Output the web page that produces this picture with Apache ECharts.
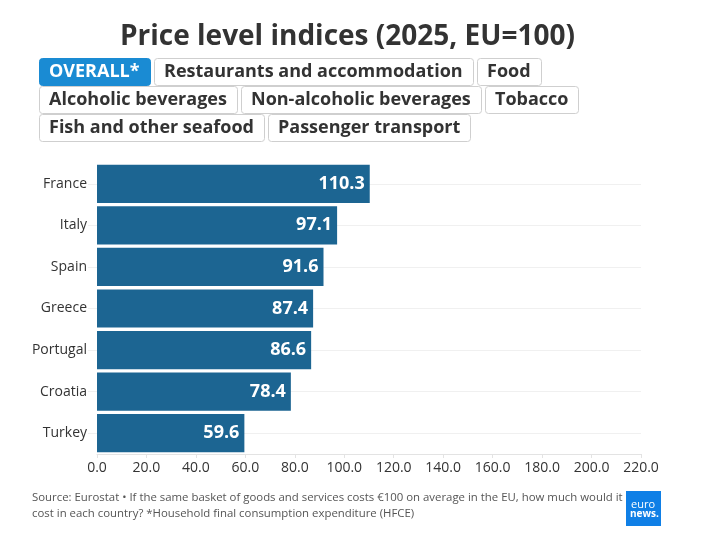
<!DOCTYPE html>
<html>
<head>
<meta charset="utf-8">
<script src="https://cdn.jsdelivr.net/npm/echarts@6/dist/echarts.min.js"></script>
<style>
html, body { margin: 0; padding: 0; background: #fff; }
#container { width: 713px; height: 560px; }
</style>
</head>
<body>
<div id="container"></div>
<script>
// data
var countries = ['France', 'Italy', 'Spain', 'Greece', 'Portugal', 'Croatia', 'Turkey'];
var values = [110.3, 97.1, 91.6, 87.4, 86.6, 78.4, 59.6];
var xTicks = { min: 0, max: 220, interval: 20 };

// filter buttons (top), one array per row
var buttonRows = [
	['OVERALL*', 'Restaurants and accommodation', 'Food'],
	['Alcoholic beverages', 'Non-alcoholic beverages', 'Tobacco'],
	['Fish and other seafood', 'Passenger transport']
];
var activeButton = 'OVERALL*';

var FONT = '"Open Sans", "Noto Sans", sans-serif';
var BTN_FONT = 'bold 18px ' + FONT;

// measure text for button widths
var ctx = document.createElement('canvas').getContext('2d');
ctx.font = BTN_FONT;

var graphics = [];
buttonRows.forEach(function (row, r) {
	var x = 39;
	var y = 58 + r * 28;
	row.forEach(function (label) {
		var w = Math.round(ctx.measureText(label).width) + 20;
		var active = label === activeButton;
		graphics.push({
			type: 'rect',
			left: x, top: y,
			shape: { width: w, height: 27, r: 3 },
			style: { fill: active ? '#1a8bd3' : '#fff', stroke: active ? '#1a8bd3' : '#cfcfcf', lineWidth: 1 },
			silent: true
		});
		graphics.push({
			type: 'text',
			x: x + 10, y: y + 14,
			style: { text: label, font: BTN_FONT, fill: active ? '#fff' : '#333', verticalAlign: 'middle' },
			silent: true
		});
		x += w + 4;
	});
});

// footer
graphics.push({
	type: 'text',
	left: 32, top: 490,
	style: {
		text: 'Source: Eurostat \u2022 If the same basket of goods and services costs \u20ac100 on average in the EU, how much would it\ncost in each country? *Household final consumption expenditure (HFCE)',
		font: '11.4px ' + FONT,
		fill: '#555',
		lineHeight: 16
	},
	silent: true
});
// logo
graphics.push({
	type: 'group',
	left: 626, top: 491,
	children: [
		{ type: 'rect', shape: { width: 35, height: 35 }, style: { fill: '#0f7fe6' } },
		{ type: 'text', left: 5, top: 8, style: { text: 'euro', font: '11px ' + FONT, fill: '#fff' } },
		{ type: 'text', left: 4, top: 18, style: { text: 'news.', font: 'bold 10px ' + FONT, fill: '#fff' } }
	]
});

var myChart = echarts.init(document.getElementById('container'));

myChart.setOption({
	animation: false,
	textStyle: { fontFamily: FONT },
	title: {
		text: 'Price level indices (2025, EU=100)',
		left: 115,
		top: 18,
		textStyle: { fontSize: 28, fontWeight: 'bold', color: '#333', fontFamily: FONT }
	},
	grid: {
		left: 97,
		right: 72,
		top: 163,
		bottom: 106
	},
	xAxis: {
		type: 'value',
		min: xTicks.min,
		max: xTicks.max,
		interval: xTicks.interval,
		axisLine: { show: true, lineStyle: { color: '#e3e3e3' } },
		axisTick: { show: true, length: 4, lineStyle: { color: '#e3e3e3' } },
		splitLine: { show: false },
		axisLabel: {
			color: '#333',
			fontSize: 14,
			margin: 7,
			formatter: function (v) { return v.toFixed(1); }
		}
	},
	yAxis: {
		type: 'category',
		inverse: true,
		data: countries,
		axisLine: { show: false },
		axisTick: { show: true, alignWithLabel: true, length: 9, lineStyle: { color: '#f0f0f0' } },
		splitLine: { show: false },
		axisLabel: { color: '#333', fontSize: 14, margin: 10 }
	},
	series: [{
		// guide lines through the row centres, behind the bars
		type: 'line',
		data: [],
		silent: true,
		z: 1,
		markLine: {
			z: 0,
			silent: true,
			symbol: 'none',
			label: { show: false },
			lineStyle: { color: '#f0f0f0', type: 'solid', width: 1 },
			data: countries.map(function (c) { return { yAxis: c }; })
		}
	}, {
		type: 'bar',
		data: values,
		z: 2,
		barCategoryGap: '8%',
		itemStyle: { color: '#1c6592' },
		label: {
			show: true,
			position: 'insideRight',
			color: '#fff',
			fontSize: 18,
			fontWeight: 'bold',
			distance: 5,
			formatter: function (p) { return p.value.toFixed(1); }
		}
	}],
	graphic: graphics
});

window.addEventListener('resize', function () {
	myChart.resize();
});
</script>
</body>
</html>
